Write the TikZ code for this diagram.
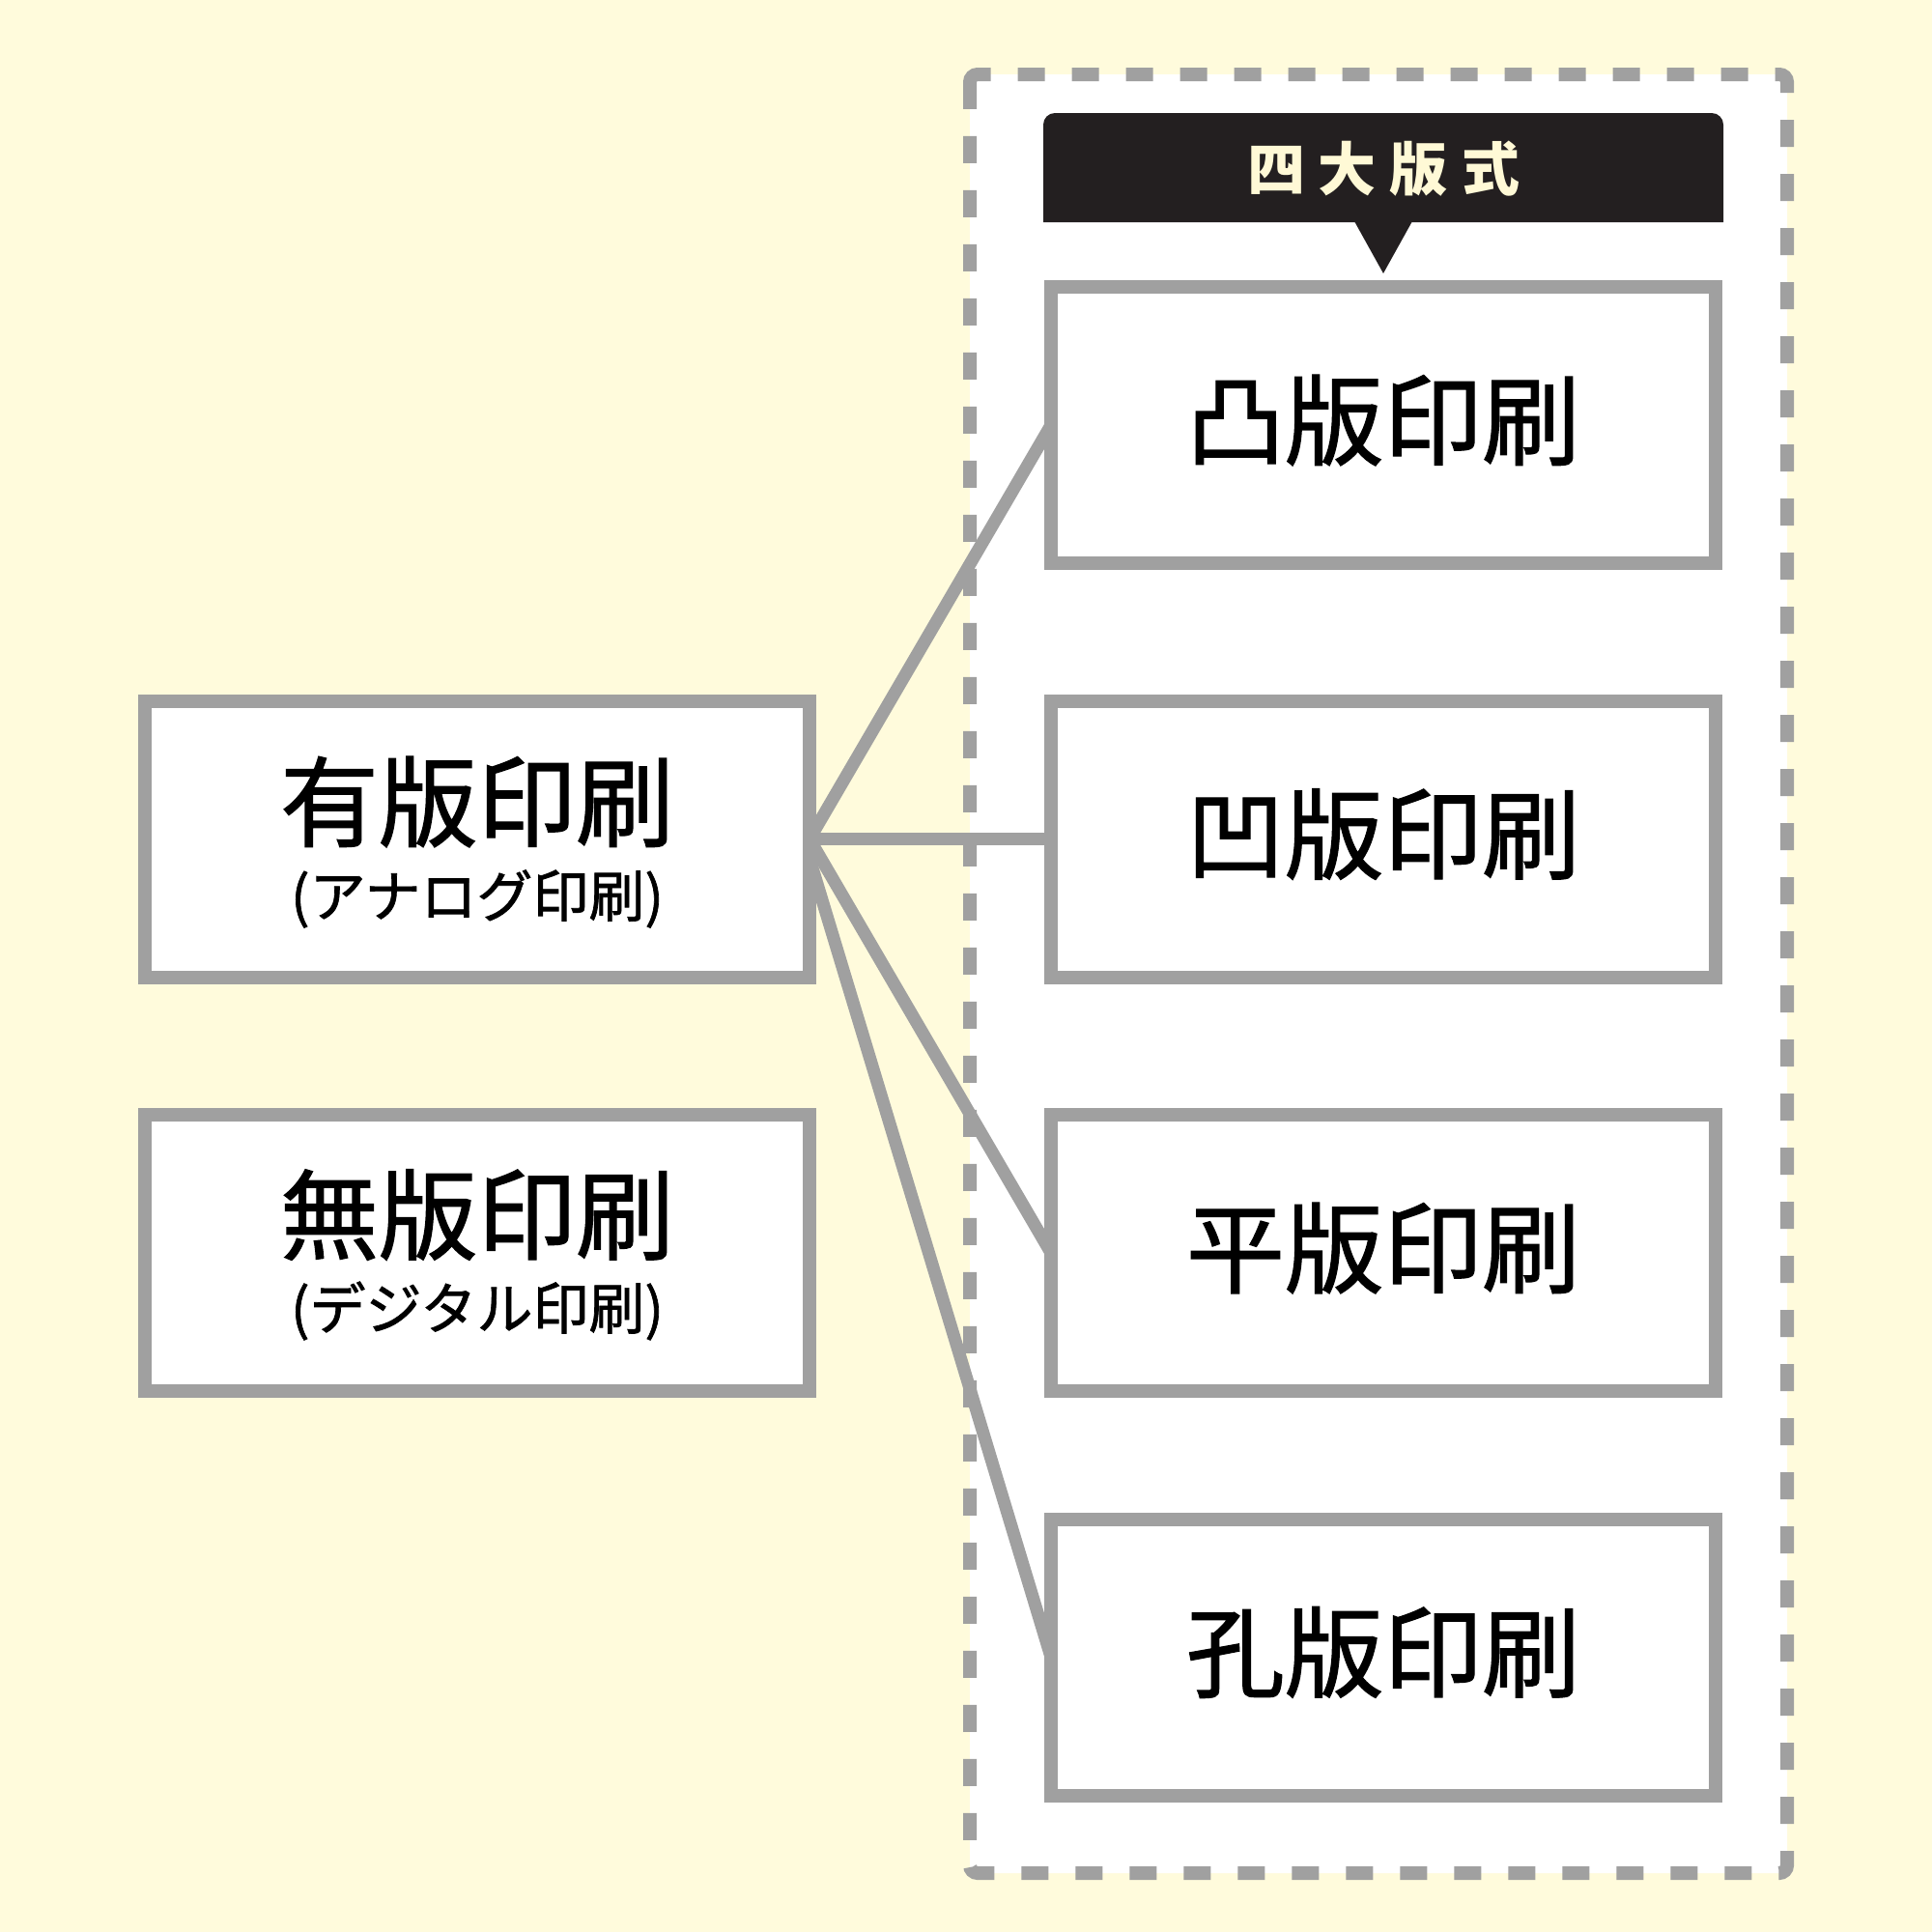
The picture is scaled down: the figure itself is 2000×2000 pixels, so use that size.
\documentclass[tikz,border=0pt]{standalone}
\usepackage{fontspec}
\newfontfamily\jp[FakeBold=1.2]{Noto Sans CJK JP}
\newfontfamily\jpt{Noto Sans CJK JP}
\definecolor{cream}{RGB}{255,251,220}
\definecolor{titlecream}{RGB}{255,249,214}
\definecolor{gline}{RGB}{160,160,160}
\definecolor{darkbox}{RGB}{35,31,32}
\tikzset{
  boxnode/.style={draw=gline, line width=14pt, fill=white, minimum width=688pt, minimum height=286pt, inner sep=0pt, outer sep=0pt},
  maintext/.style={font=\jp\fontsize{102}{102}\selectfont, inner sep=0pt, text=black},
  subtext/.style={font=\jp\fontsize{58}{58}\selectfont, inner sep=0pt, text=black},
  titletext/.style={font=\jpt\bfseries\fontsize{60}{60}\selectfont, text=titlecream, inner sep=0pt},
  conn/.style={draw=gline, line width=13pt}
}
\begin{document}
\begin{tikzpicture}[x=1pt,y=-1pt]
\useasboundingbox (0,0) rectangle (2000,2000);
\fill[cream] (0,0) rectangle (2000,2000);
% dashed group
\fill[white, rounded corners=8pt] (1004,77) rectangle (1850,1939);
\draw[gline, line width=14pt, dash pattern=on 28pt off 28pt, rounded corners=8pt]
  (1004,91) -- (1004,77) -- (1850,77) -- (1850,1939) -- (1004,1939) -- cycle;
% title callout
\fill[darkbox] (1080,230) {[rounded corners=12pt] -- (1080,117) -- (1784,117)} -- (1784,230) -- cycle;
\fill[darkbox] (1402,229) -- (1432,283) -- (1462,229) -- cycle;
\node[titletext] (title) at (1432,175) {四\hspace{14pt}大\hspace{14pt}版\hspace{14pt}式};
% boxes
\node[boxnode] (yuhan) at (494,868.5) {};
\node[boxnode] (muhan) at (494,1297) {};
\node[boxnode] (totsu) at (1432,440) {};
\node[boxnode] (ou) at (1432,868.5) {};
\node[boxnode] (hei) at (1432,1297) {};
\node[boxnode] (kou) at (1432,1715.5) {};
% connectors
\draw[conn] (yuhan.east) -- (totsu.west);
\draw[conn] (yuhan.east) -- (ou.west);
\draw[conn] (yuhan.east) -- (hei.west);
\draw[conn] ([yshift=-20pt]yuhan.east) -- (kou.west);
% redraw box borders over connector ends
\foreach \n in {yuhan,totsu,ou,hei,kou}{
  \draw[gline, line width=14pt] (\n.south west) rectangle (\n.north east);
}
% texts
\node[maintext] (t1) at ([yshift=5pt]totsu.center) {凸版印刷};
\node[maintext] (t2) at ([yshift=5pt]ou.center) {凹版印刷};
\node[maintext] (t3) at ([yshift=5pt]hei.center) {平版印刷};
\node[maintext] (t4) at ([yshift=5pt]kou.center) {孔版印刷};
\node[maintext] (t5) at ([yshift=38.5pt]yuhan.center) {有版印刷};
\node[subtext] (s5) at ([yshift=-62pt]yuhan.center) {(アナログ印刷)};
\node[maintext] (t6) at ([yshift=39.5pt]muhan.center) {無版印刷};
\node[subtext] (s6) at ([yshift=-60pt]muhan.center) {(デジタル印刷)};
\end{tikzpicture}
\end{document}
